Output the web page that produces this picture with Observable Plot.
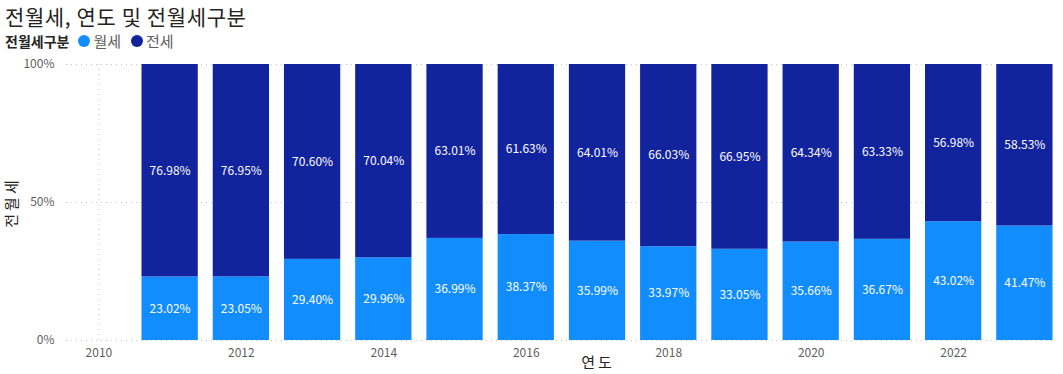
<!DOCTYPE html>
<html>
<head>
<meta charset="utf-8">
<script src="https://cdn.jsdelivr.net/npm/d3@7"></script>
<script src="https://cdn.jsdelivr.net/npm/@observablehq/plot@0.6"></script>
<style>
  body { margin: 0; background: #fff; font-family: "Noto Sans CJK KR", "Noto Sans", sans-serif; }
  #title { position: absolute; left: 5px; top: 2px; font-size: 21px; letter-spacing: 0.6px; color: #252423; line-height: 28px; }
  #legend { position: absolute; left: 5px; top: 31px; font-size: 14px; color: #252423; line-height: 20px; display: flex; align-items: center; }
  #legend b { font-weight: bold; color: #252423; margin-right: 9px; }
  .sw { display: inline-block; width: 12px; height: 12px; border-radius: 50%; margin-right: 3px; }
  .it { display: inline-flex; align-items: center; margin-right: 10px; color: #605E5C; font-size: 15px; }
  #chart { position: absolute; left: 0; top: 50px; }
</style>
</head>
<body>
<div id="title">전월세, 연도 및 전월세구분</div>
<div id="legend"><b>전월세구분</b></div>
<div id="chart"></div>
<script>
const years = [2011, 2012, 2013, 2014, 2015, 2016, 2017, 2018, 2019, 2020, 2021, 2022, 2023];
const monthly = [23.02, 23.05, 29.40, 29.96, 36.99, 38.37, 35.99, 33.97, 33.05, 35.66, 36.67, 43.02, 41.47];
const jeonse = [76.98, 76.95, 70.60, 70.04, 63.01, 61.63, 64.01, 66.03, 66.95, 64.34, 63.33, 56.98, 58.53];
const seriesNames = ["월세", "전세"];
const seriesColors = ["#118DFF", "#12239E"];
const xTicks = [2010, 2012, 2014, 2016, 2018, 2020, 2022];
const yTicks = [0, 50, 100];

const rows = [];
years.forEach((y, i) => {
  rows.push({year: y, type: seriesNames[0], v: monthly[i], lo: 0, hi: monthly[i]});
  rows.push({year: y, type: seriesNames[1], v: jeonse[i], lo: monthly[i], hi: monthly[i] + jeonse[i]});
});

const legend = document.getElementById("legend");
seriesNames.forEach((n, i) => {
  const s = document.createElement("span");
  s.className = "it";
  s.innerHTML = `<span class="sw" style="background:${seriesColors[i]}"></span>${n}`;
  legend.appendChild(s);
});

const half = 0.395;
const plot = Plot.plot({
  width: 1063,
  height: 324,
  marginLeft: 66,
  marginRight: 8,
  marginTop: 14,
  marginBottom: 34,
  style: {fontFamily: "'Noto Sans CJK KR', 'Noto Sans', sans-serif", background: "transparent"},
  x: {type: "linear", domain: [2009.545, 2023.43], label: null},
  y: {domain: [0, 100], label: null},
  color: {domain: seriesNames, range: seriesColors},
  marks: [
    Plot.ruleY(yTicks, {stroke: "#C8C6C4", strokeDasharray: "1,4", strokeWidth: 1}),
    Plot.ruleX(xTicks, {stroke: "#C8C6C4", strokeDasharray: "1,4", strokeWidth: 1}),
    Plot.rectY(rows, {x1: d => d.year - half, x2: d => d.year + half, y1: "lo", y2: "hi", fill: "type"}),
    Plot.text(rows, {x: "year", y: d => (d.lo + d.hi) / 2, text: d => d.v.toFixed(2) + "%", fill: "white", fontSize: 12}),
    Plot.axisY(yTicks, {tickSize: 0, tickPadding: 12, tickFormat: d => d + "%", fontSize: 12, fill: "#605E5C", label: null}),
    Plot.axisX(xTicks, {tickSize: 0, tickPadding: 8, tickFormat: d => String(d), fontSize: 12, fill: "#605E5C", label: null}),
    Plot.text(["연도"], {frameAnchor: "bottom", dx: 37, dy: 27, fontSize: 15, fill: "#252423"}),
    Plot.text(["전월세"], {frameAnchor: "left", textAnchor: "middle", dx: -54, rotate: -90, fontSize: 15, fill: "#252423"})
  ]
});
d3.select(plot).selectAll("text").filter(function() { return this.textContent === "연도" || this.textContent === "전월세"; })
  .attr("letter-spacing", "3px");
document.getElementById("chart").appendChild(plot);
</script>
</body>
</html>
